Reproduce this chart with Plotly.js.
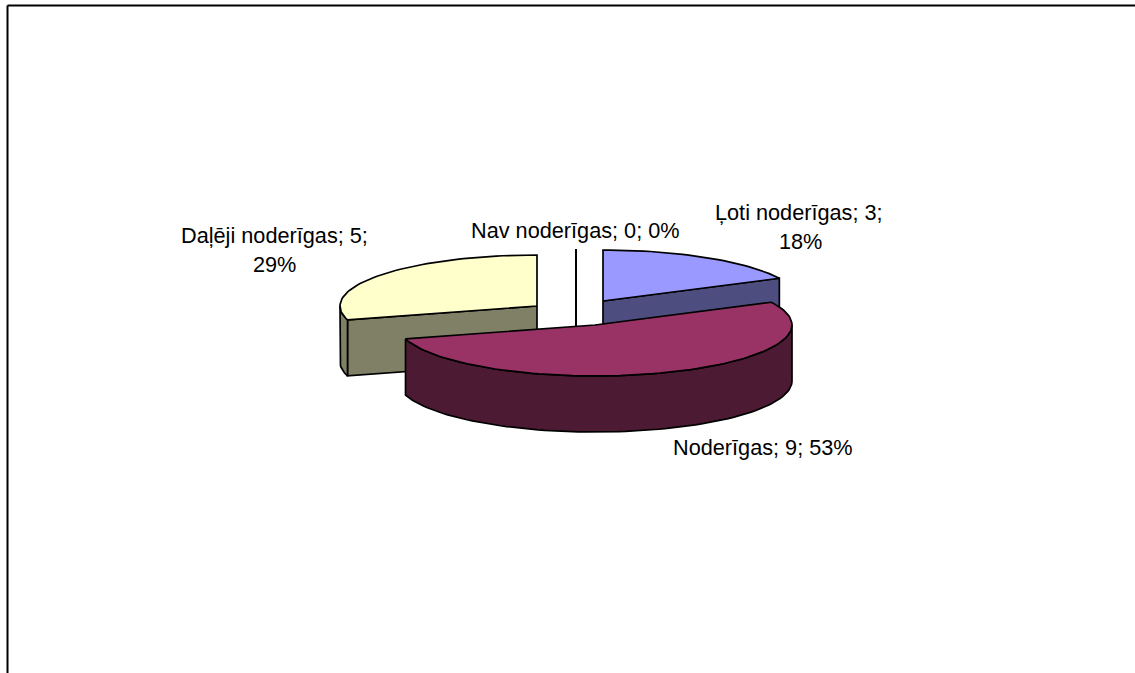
<!DOCTYPE html>
<html><head><meta charset="utf-8">
<script src="https://cdn.plot.ly/plotly-3.0.1.min.js"></script>
<style>html,body{margin:0;padding:0;background:#fff}#c{width:1135px;height:673px}</style>
</head><body><div id="c"></div>
<script>
// Data
const categories = ['Ļoti noderīgas','Noderīgas','Daļēji noderīgas','Nav noderīgas'];
const values = [3,9,5,0];
const percents = [18,53,29,0];
// Styles and layout, kept apart from the data
const topColors = ['#9999FF','#993366','#FFFFCC','#FFFFFF'];
const sideColors = ['#4D4D80','#4D1A33','#808066','#FFFFFF'];
const apexes = [[603,301],[595,325],[537,306],[576,300]];
const labelLines = [
  [[799,212],[800,241]],
  [[763,447]],
  [[274,235],[274,264]],
  [[575,230]]
];
const RX = 197, RY = 51, DEPTH = 56;
const drawOrder = [0,2,3,1];

const total = values.reduce((a,b)=>a+b,0);
const rad = d => d*Math.PI/180;
const pt = (ap,t,dz=0) => [ap[0]+RX*Math.sin(rad(t)), ap[1]-RY*Math.cos(rad(t))+dz];
function arc(ap,a,b,dz=0){ const n=Math.max(1,Math.ceil(Math.abs(b-a)/2)), out=[];
  for(let i=0;i<=n;i++) out.push(pt(ap,a+(b-a)*i/n,dz)); return out; }
const traces=[];
function poly(points,color){
  traces.push({type:'scatter',mode:'lines',x:points.map(p=>p[0]),y:points.map(p=>p[1]),
    fill:'toself',fillcolor:color,line:{color:'#000',width:1.7},hoverinfo:'skip',showlegend:false});
}
let cum=0; const spans=values.map(v=>{const s=[cum,cum+v/total*360];cum=s[1];return s;});
drawOrder.forEach(i=>{
  const [a,b]=spans[i], ap=apexes[i];
  if(values[i]===0){
    const top=pt(ap,a);
    traces.push({type:'scatter',mode:'lines',x:[ap[0],top[0]],y:[ap[1]+DEPTH,top[1]],
      line:{color:'#000',width:2},hoverinfo:'skip',showlegend:false});
    return;
  }
  // radial cut faces that look toward the viewer
  if(b<90){ poly([ap,pt(ap,b),pt(ap,b,DEPTH),[ap[0],ap[1]+DEPTH],ap],sideColors[i]); }
  if(a>180 && a<360){ poly([ap,pt(ap,a),pt(ap,a,DEPTH),[ap[0],ap[1]+DEPTH],ap],sideColors[i]); }
  // outer rim on the front half
  const lo=Math.max(a,90), hi=Math.min(b,270);
  if(hi>lo){ const up=arc(ap,lo,hi), dn=arc(ap,lo,hi,DEPTH).reverse();
    poly(up.concat(dn,[up[0]]),sideColors[i]); }
  // top face
  poly([ap].concat(arc(ap,a,b),[ap]),topColors[i]);
});
const annotations=[];
categories.forEach((c,i)=>{
  const pos=labelLines[i];
  const lines= pos.length===2 ? [`${c}; ${values[i]};`,`${percents[i]}%`] : [`${c}; ${values[i]}; ${percents[i]}%`];
  lines.forEach((text,k)=>annotations.push({x:pos[k][0],y:pos[k][1],xref:'x',yref:'y',text,showarrow:false,
    xanchor:'center',yanchor:'middle',font:{family:'"Liberation Sans",Arial,sans-serif',size:21.7,color:'#000'}}));
});
const layout={width:1135,height:673,margin:{l:0,r:0,t:0,b:0},paper_bgcolor:'#fff',plot_bgcolor:'#fff',
  xaxis:{range:[0,1135],visible:false,fixedrange:true},
  yaxis:{range:[673,0],visible:false,fixedrange:true},
  showlegend:false,annotations,
  shapes:[
    {type:'line',xref:'x',yref:'y',x0:7.5,x1:1135,y0:5.5,y1:5.5,line:{color:'#000',width:2}},
    {type:'line',xref:'x',yref:'y',x0:7.5,x1:7.5,y0:5.5,y1:673,line:{color:'#000',width:2}}
  ]};
Plotly.newPlot('c',traces,layout,{displayModeBar:false,staticPlot:true});
</script></body></html>
